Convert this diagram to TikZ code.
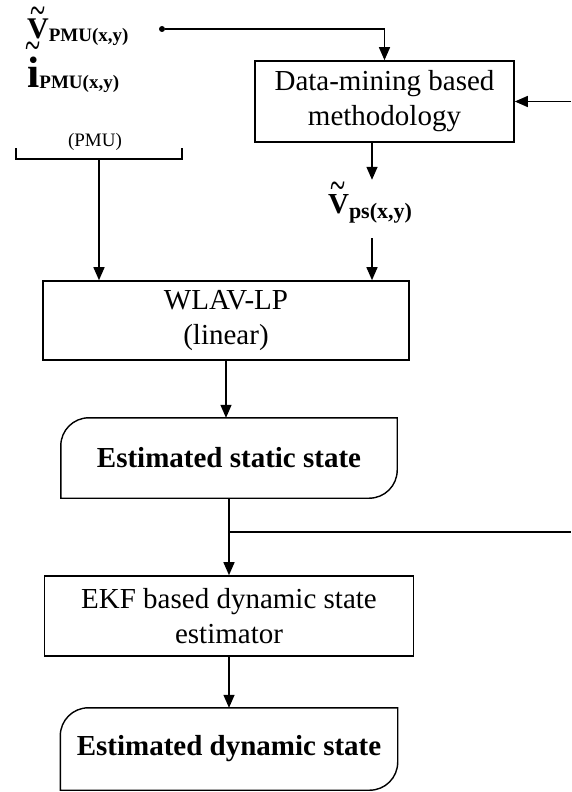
\documentclass[tikz,border=0pt]{standalone}
\usepackage{fontspec}
\usepackage{graphicx}
\setmainfont{Liberation Serif}
\usetikzlibrary{arrows.meta,positioning}
% tilde set above a letter, raised by #1
\newcommand\tildeon[2][8pt]{\ooalign{#2\cr\hidewidth\raisebox{#1}{\scalebox{1}[1.6]{\fontsize{28}{28}\selectfont\mdseries\char"7E}}\hidewidth\cr}}

\begin{document}
\begin{tikzpicture}[
    x=1pt, y=1pt,
    node distance=57pt,
    block/.style={rectangle, draw=black, line width=1.6pt, align=center, inner sep=0pt, font=\fontsize{29}{35}\selectfont},
    result/.style={rectangle, align=center, inner sep=0pt, font=\fontsize{29}{35}\selectfont\bfseries},
    lbl/.style={inner sep=0pt, font=\bfseries},
    line/.style={line width=1.4pt},
    >={Triangle[length=13pt,width=11pt]}
]
\useasboundingbox (0,0) rectangle (571,-792);

% inputs
\node[lbl, anchor=base west] (vpmu) at (27,-38) {{\fontsize{30}{30}\selectfont\tildeon[13pt]{V}}\raisebox{-3pt}{\fontsize{19}{19}\selectfont PMU(x,y)}};
\node[lbl, anchor=base west] (ipmu) at (27,-88) {{\fontsize{44}{44}\selectfont\tildeon[27pt]{i}}\raisebox{-1pt}{\fontsize{19}{19}\selectfont PMU(x,y)}};
\node[circle, fill=black, inner sep=0pt, minimum size=6pt] (dot) at (162,-29) {};
\node[font=\fontsize{19}{19}\selectfont] (pmu) at (95,-142) {(PMU)};
\coordinate (pmuout) at (99,-159);
\coordinate (fbin) at (571,-101.5);
\coordinate (fbout) at (571,-532);

% blocks
\node[block, minimum width=259pt, minimum height=81pt] (dm) at (384.5,-101.5) {Data-mining based\\methodology};
\node[lbl, minimum height=58pt] (vps) at (370,-209) {{\fontsize{29}{29}\selectfont\tildeon[13pt]{V}}\raisebox{-5pt}{\fontsize{22}{22}\selectfont ps(x,y)}};
\node[block, minimum width=366pt, minimum height=79pt] (wlav) at (226,-320.5) {WLAV-LP\\(linear)};
\node[result, minimum width=336pt, minimum height=80pt, below=57pt of wlav, xshift=3pt] (static) {Estimated static state};
\node[block, minimum width=369pt, minimum height=80pt, below=77pt of static] (ekf) {EKF based dynamic state\\estimator};
\node[result, minimum width=337pt, minimum height=82pt, below=51pt of ekf] (dyn) {Estimated dynamic state};

% outline of the result boxes
\foreach \n in {static,dyn}
  \draw[line] (\n.south west) -- ([yshift=-28pt]\n.north west) arc[start angle=180, end angle=90, radius=28pt]
    -- (\n.north east) -- ([yshift=28pt]\n.south east) arc[start angle=0, end angle=-90, radius=28pt] -- cycle;

% bracket
\draw[line] (16,-148) -- (16,-159) -- (182,-159) -- (182,-148);

% connectors
\draw[line,->] (dot) -| (dm.north);
\draw[line,->] (fbin) -- (dm.east);
\draw[line,->] (dm.south -| 372,0) -- (372,0 |- vps.north);
\draw[line,->] (372,0 |- vps.south) -- (372,0 |- wlav.north);
\draw[line,->] (pmuout) -- (pmuout |- wlav.north);
\draw[line,->] (wlav.south) -- (wlav.south |- static.north);
\draw[line,->] (static.south) -- (static.south |- ekf.north);
\draw[line] (static.south |- fbout) -- (fbout);
\draw[line,->] (ekf.south) -- (ekf.south |- dyn.north);

\end{tikzpicture}
\end{document}
